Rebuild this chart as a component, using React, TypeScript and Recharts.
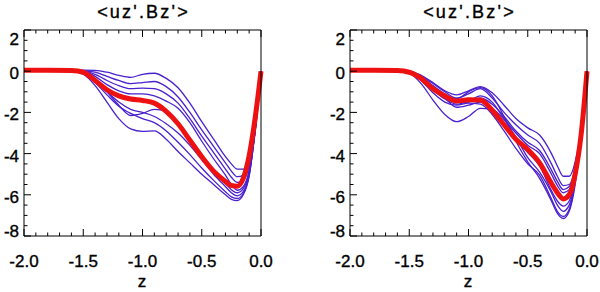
import { LineChart, Line, XAxis, YAxis } from 'recharts'

// z grid shared by every profile
const Z = [-2, -1.8, -1.6, -1.5, -1.4, -1.3, -1.2, -1.1, -1.0, -0.9, -0.8, -0.7, -0.6, -0.5, -0.4, -0.3, -0.25, -0.2, -0.15, -0.1, -0.05, 0]

const X_TICKS = [-2, -1.9, -1.8, -1.7, -1.6, -1.5, -1.4, -1.3, -1.2, -1.1, -1, -0.9, -0.8, -0.7, -0.6, -0.5, -0.4, -0.3, -0.2, -0.1, 0]
const Y_TICKS = [-8, -7.5, -7, -6.5, -6, -5.5, -5, -4.5, -4, -3.5, -3, -2.5, -2, -1.5, -1, -0.5, 0, 0.5, 1, 1.5, 2]

const TITLE = "<uz'.Bz'>"
const X_LABEL = 'z'

// left panel: individual runs + mean
const L1 = [0.05, 0.05, 0.05, 0.05, 0.04, -0.05, -0.2, -0.3, -0.15, -0.1, -0.35, -0.8, -1.55, -2.45, -3.3, -4.15, -4.5, -4.75, -4.75, -4.4, -3.0, 0]
const L2 = [0.05, 0.05, 0.05, 0.03, -0.05, -0.25, -0.45, -0.6, -0.55, -0.5, -0.75, -1.25, -2.0, -2.85, -3.65, -4.45, -4.85, -5.12, -5.05, -4.5, -2.9, 0]
const L3 = [0.05, 0.05, 0.05, 0.02, -0.15, -0.45, -0.7, -0.85, -0.82, -0.85, -1.1, -1.55, -2.3, -3.15, -3.95, -4.75, -5.15, -5.4, -5.3, -4.6, -2.8, 0]
const L4 = [0.05, 0.05, 0.04, 0.0, -0.25, -0.65, -0.95, -1.1, -1.1, -1.2, -1.45, -1.8, -2.5, -3.4, -4.25, -5.05, -5.5, -5.78, -5.6, -4.8, -2.8, 0]
const L5 = [0.05, 0.05, 0.03, -0.05, -0.4, -1.0, -1.65, -2.15, -2.05, -1.85, -1.95, -2.55, -3.25, -4.05, -4.8, -5.45, -5.75, -5.9, -5.7, -4.9, -2.8, 0]
const L6 = [0.05, 0.05, 0.02, -0.1, -0.5, -1.0, -1.5, -1.85, -2.0, -2.2, -2.55, -3.0, -3.6, -4.3, -5.0, -5.6, -5.9, -6.05, -5.85, -5.0, -2.9, 0]
const L7 = [0.05, 0.05, 0.02, -0.1, -0.55, -1.15, -1.7, -2.05, -2.3, -2.5, -2.9, -3.45, -4.05, -4.7, -5.3, -5.85, -6.1, -6.18, -5.95, -5.05, -2.9, 0]
const L8 = [0.05, 0.05, 0.0, -0.15, -0.7, -1.5, -2.3, -2.8, -2.92, -2.9, -3.3, -3.9, -4.45, -5.0, -5.5, -6.0, -6.22, -6.28, -6.0, -5.1, -2.9, 0]
const L_MEAN = [0.05, 0.05, 0.03, -0.05, -0.45, -0.9, -1.2, -1.35, -1.42, -1.55, -1.95, -2.55, -3.35, -4.15, -4.85, -5.35, -5.55, -5.58, -5.2, -4.1, -2.3, 0]

// right panel
const R1 = [0.05, 0.05, 0.05, 0.02, -0.2, -0.55, -0.95, -1.15, -0.95, -0.75, -1.05, -1.65, -2.3, -2.75, -3.1, -4.0, -4.6, -5.1, -5.1, -4.4, -2.8, 0]
const R2 = [0.05, 0.05, 0.04, 0.0, -0.25, -0.6, -1.0, -1.3, -1.1, -0.85, -1.3, -2.0, -2.6, -3.1, -3.5, -4.5, -5.1, -5.55, -5.5, -4.7, -2.9, 0]
const R3 = [0.05, 0.05, 0.04, -0.02, -0.3, -0.75, -1.2, -1.5, -1.5, -1.3, -1.6, -2.2, -2.9, -3.45, -3.85, -4.8, -5.35, -5.75, -5.6, -4.8, -2.9, 0]
const R4 = [0.05, 0.05, 0.03, -0.05, -0.4, -0.9, -1.35, -1.6, -1.45, -1.2, -1.5, -2.3, -3.0, -3.6, -4.0, -5.0, -5.55, -5.9, -5.75, -4.9, -2.9, 0]
const R5 = [0.05, 0.05, 0.03, -0.05, -0.35, -0.8, -1.3, -1.75, -1.65, -1.5, -1.9, -2.6, -3.3, -3.95, -4.6, -5.8, -6.3, -6.55, -6.3, -5.2, -3.0, 0]
const R6 = [0.05, 0.05, 0.02, -0.1, -0.6, -1.4, -2.1, -2.45, -2.2, -1.8, -1.85, -2.35, -3.2, -4.2, -4.9, -5.9, -6.5, -6.8, -6.5, -5.3, -3.0, 0]
const R7 = [0.05, 0.05, 0.03, -0.05, -0.45, -1.05, -1.5, -1.65, -1.55, -1.6, -2.1, -2.9, -3.75, -4.5, -5.05, -6.2, -6.8, -7.05, -6.7, -5.4, -3.0, 0]
const R8 = [0.05, 0.05, 0.03, -0.05, -0.3, -0.7, -1.1, -1.35, -1.0, -0.8, -1.2, -2.2, -3.4, -4.4, -5.2, -6.3, -6.9, -7.15, -6.8, -5.5, -3.0, 0]
const R_MEAN = [0.05, 0.05, 0.03, -0.05, -0.35, -0.85, -1.2, -1.45, -1.38, -1.4, -1.9, -2.6, -3.3, -3.8, -4.45, -5.45, -5.9, -6.2, -6.0, -5.0, -3.1, 0]

const LEFT_RUNS = [L1, L2, L3, L4, L5, L6, L7, L8]
const RIGHT_RUNS = [R1, R2, R3, R4, R5, R6, R7, R8]

const FONT = '"Liberation Sans", Arial, Helvetica, sans-serif'
const RUN_COLOR = '#4a20cf'
const MEAN_COLOR = '#ee1111'
const MAJOR = 7
const MINOR = 3.5

const isMajor = (v: number, step: number) => Math.abs(v / step - Math.round(v / step)) < 1e-6

function buildTable(runs: number[][], mean: number[]) {
  return Z.map((z, i) => {
    const row: Record<string, number> = { z, mean: mean[i] }
    runs.forEach((r, k) => {
      row['s' + k] = r[i]
    })
    return row
  })
}

// slightly heavier glyphs, like the IDL hershey/helvetica output
const labelProps = { fontSize: 17, fontFamily: FONT, fill: '#000', stroke: '#000', strokeWidth: 0.35 }

const bottomTick = (p: any) => {
  const v = p.payload.value
  const major = isMajor(v, 0.5)
  return (
    <g>
      <line x1={p.x} x2={p.x} y1={p.y} y2={p.y - (major ? MAJOR : MINOR)} stroke="#000" />
      {major && (
        <text x={p.x} y={p.y + 31} textAnchor="middle" {...labelProps}>
          {v.toFixed(1)}
        </text>
      )}
    </g>
  )
}

const topTick = (p: any) => {
  const major = isMajor(p.payload.value, 0.5)
  return <line x1={p.x} x2={p.x} y1={p.y} y2={p.y + (major ? MAJOR : MINOR)} stroke="#000" />
}

const leftTick = (p: any) => {
  const v = p.payload.value
  const major = isMajor(v, 2)
  // end labels sit a little inside the frame, as in the original plot
  const shift = v === 2 ? 15 : v === -8 ? 1 : 8
  return (
    <g>
      <line x1={p.x} x2={p.x + (major ? MAJOR : MINOR)} y1={p.y} y2={p.y} stroke="#000" />
      {major && (
        <text x={p.x - 5} y={p.y + shift} textAnchor="end" {...labelProps}>
          {String(v)}
        </text>
      )}
    </g>
  )
}

const rightTick = (p: any) => {
  const major = isMajor(p.payload.value, 2)
  return <line x1={p.x} x2={p.x - (major ? MAJOR : MINOR)} y1={p.y} y2={p.y} stroke="#000" />
}

function Panel({ runs, mean, leftW, rightW }: { runs: number[][]; mean: number[]; leftW: number; rightW: number }) {
  const data = buildTable(runs, mean)
  const axisLine = { stroke: '#000', strokeWidth: 1 }
  return (
    <LineChart width={300} height={292} data={data} margin={{ top: 0, right: 0, bottom: 0, left: 0 }}>
      <XAxis
        dataKey="z"
        type="number"
        domain={[-2, 0]}
        ticks={X_TICKS}
        interval={0}
        height={56}
        tickSize={0}
        tickMargin={0}
        tickLine={false}
        axisLine={axisLine}
        tick={bottomTick}
      />
      <XAxis
        xAxisId="top"
        orientation="top"
        dataKey="z"
        type="number"
        domain={[-2, 0]}
        ticks={X_TICKS}
        interval={0}
        height={30}
        tickSize={0}
        tickMargin={0}
        tickLine={false}
        axisLine={axisLine}
        tick={topTick}
      />
      <YAxis
        type="number"
        domain={[-8, 2]}
        ticks={Y_TICKS}
        interval={0}
        width={leftW}
        tickSize={0}
        tickMargin={0}
        tickLine={false}
        axisLine={axisLine}
        tick={leftTick}
      />
      <YAxis
        yAxisId="right"
        orientation="right"
        type="number"
        domain={[-8, 2]}
        ticks={Y_TICKS}
        interval={0}
        width={rightW}
        tickSize={0}
        tickMargin={0}
        tickLine={false}
        axisLine={axisLine}
        tick={rightTick}
      />
      {runs.map((_, k) => (
        <Line
          key={k}
          dataKey={'s' + k}
          type="monotone"
          stroke={RUN_COLOR}
          strokeWidth={1.3}
          dot={false}
          isAnimationActive={false}
        />
      ))}
      <Line dataKey="mean" type="monotone" stroke={MEAN_COLOR} strokeWidth={5} dot={false} isAnimationActive={false} />
    </LineChart>
  )
}

export default function App() {
  const titleStyle = { fontFamily: FONT, fontSize: 18, fill: '#000', stroke: '#000', strokeWidth: 0.35 }
  const zStyle = { fontFamily: FONT, fontSize: 17, fill: '#000', stroke: '#000', strokeWidth: 0.35 }
  return (
    <div style={{ position: 'absolute', left: 0, top: 0, width: 600, height: 292, background: '#fff' }}>
      <div style={{ position: 'absolute', left: 0, top: 0 }}>
        <Panel runs={LEFT_RUNS} mean={L_MEAN} leftW={24} rightW={39} />
      </div>
      <div style={{ position: 'absolute', left: 300, top: 0 }}>
        <Panel runs={RIGHT_RUNS} mean={R_MEAN} leftW={50} rightW={13} />
      </div>
      <svg width={600} height={292} style={{ position: 'absolute', left: 0, top: 0, pointerEvents: 'none' }}>
        <text x={143.5} y={18} textAnchor="middle" letterSpacing={2.2} style={titleStyle}>{TITLE}</text>
        <text x={469.5} y={18} textAnchor="middle" letterSpacing={2.2} style={titleStyle}>{TITLE}</text>
        <text x={142} y={287} textAnchor="middle" style={zStyle}>{X_LABEL}</text>
        <text x={468} y={287} textAnchor="middle" style={zStyle}>{X_LABEL}</text>
      </svg>
    </div>
  )
}
